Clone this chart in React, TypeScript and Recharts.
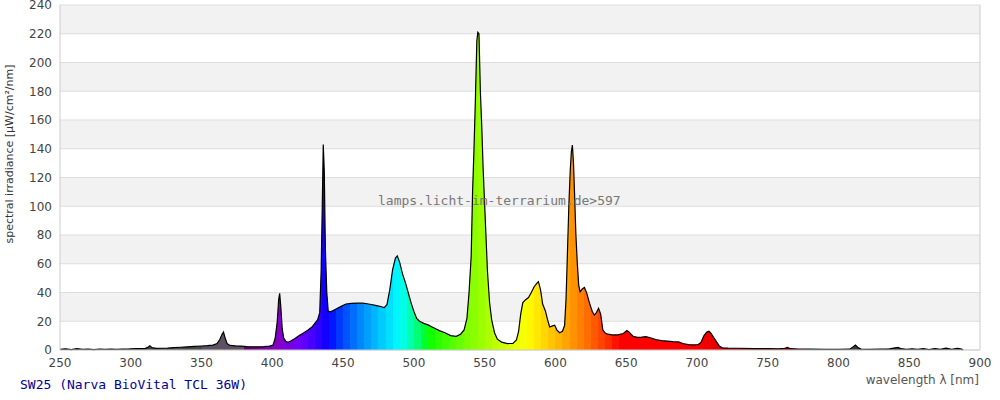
import { Area, CartesianGrid, ComposedChart, ReferenceLine, XAxis, YAxis } from 'recharts';

// [wavelength nm, spectral irradiance µW/cm²/nm]
const spectrumPoints: Array<[number, number]> = [
  [250, 0.5], [254, 0.8], [258, 0.3], [262, 0.9], [266, 0.4], [270, 0.6], [274, 0.3], [278, 0.7],
  [282, 0.4], [286, 0.6], [290, 0.5], [294, 0.7], [298, 0.6], [300, 0.8], [305, 0.9], [310, 1.0],
  [312, 1.8], [313.5, 3.0], [315, 1.6], [318, 1.1], [322, 1.2], [326, 1.3], [330, 1.6], [335, 1.9],
  [340, 2.2], [345, 2.5], [350, 2.8], [354, 3.0], [358, 3.4], [361, 4.5], [363, 7.5], [364.5, 11],
  [365.5, 12.5], [366.5, 9], [368, 4.5], [370, 3.2], [374, 2.9], [378, 2.7], [382, 2.4], [386, 2.2],
  [390, 2.2], [394, 2.4], [398, 2.7], [400.5, 3.5], [402, 8], [403.5, 20], [404.5, 35], [405.2, 39.4],
  [406, 30], [407, 15], [408, 8.5], [409.5, 6], [411, 5.3], [413, 6.2], [416, 8], [419, 10],
  [422, 11.8], [425, 13.8], [428, 16], [430, 18.5], [432, 21], [433.5, 26], [434.5, 55], [435.3, 100],
  [436, 143], [436.7, 125], [437.5, 70], [438.5, 40], [439.5, 27], [441, 26.5], [443, 27.5], [446, 29],
  [449, 30.5], [452, 32], [456, 32.5], [460, 32.6], [464, 32.6], [468, 32], [472, 31.2], [476, 30.4],
  [479, 29.5], [481, 31.5], [483, 42], [485, 56], [487, 64], [488.3, 65.5], [490, 61], [492, 53],
  [494, 47], [496, 40], [498, 33], [500, 27], [502, 22], [504, 20], [507, 18.5], [510, 17.5],
  [514, 15.5], [518, 13.5], [522, 12], [526, 10], [530, 9.5], [533, 11], [535.5, 14], [537.5, 22],
  [539, 40], [540.5, 65], [541.5, 110], [542.5, 140], [543.5, 175], [544.5, 215], [545.2, 221], [546, 220],
  [547, 180], [548, 155], [549, 125], [550.5, 90], [552, 55], [553.5, 33], [555, 21], [557, 12],
  [559, 7.5], [562, 5.5], [566, 4.5], [570, 4.6], [572.5, 7], [574, 13], [575.5, 25], [577, 33],
  [579, 35], [581, 36.5], [583, 40], [585, 44], [587, 46.5], [588, 47.5], [589.5, 42], [591, 32],
  [593, 27], [594.5, 21], [596, 16], [598, 16.8], [599.5, 17.2], [601, 14], [603, 12], [605, 13],
  [606.5, 17], [607.5, 35], [608.5, 67], [609.5, 100], [610.5, 125], [611.3, 138], [612, 142.5], [612.8, 130],
  [613.5, 110], [614.5, 80], [615.5, 60], [616.5, 45], [617.5, 40.5], [619, 42.5], [620.5, 43.5], [622, 40],
  [624, 33], [626, 27], [627.5, 24.3], [629, 26], [630.5, 29], [632, 25], [633.5, 14], [635, 12],
  [637, 11], [640, 10.5], [644, 10.5], [648, 11.5], [650.5, 13.5], [652, 12.5], [655, 9.5], [658, 8.8],
  [661, 9], [664, 9.3], [667, 8.5], [671, 7.2], [675, 6.5], [679, 6.2], [683, 5.8], [687, 5.6],
  [690, 4.5], [694, 3.8], [698, 3.5], [701, 3.8], [703, 5.5], [705, 10], [707, 12.5], [708.5, 13],
  [710, 11.5], [712, 8.5], [714, 5.5], [716, 2.5], [718, 1.5], [722, 1.3], [730, 1.2], [740, 1.0],
  [750, 0.9], [758, 0.8], [762, 1.2], [764, 1.8], [766, 0.9], [772, 0.7], [780, 0.6], [790, 0.5],
  [800, 0.4], [808, 0.6], [810, 2.0], [812, 3.5], [814, 1.5], [816, 0.6], [822, 0.4], [830, 0.6],
  [836, 0.8], [840, 1.5], [842, 1.8], [844, 1.0], [848, 0.5], [852, 0.8], [856, 0.4], [860, 0.9],
  [864, 0.3], [868, 1.0], [872, 0.5], [876, 1.3], [880, 0.4], [884, 1.2], [887, 0.6], [888, 0],
];

const xTicks = [250, 300, 350, 400, 450, 500, 550, 600, 650, 700, 750, 800, 850, 900];
const yTicks = [0, 20, 40, 60, 80, 100, 120, 140, 160, 180, 200, 220, 240];

const chartTitle = 'SW25 (Narva BioVital TCL 36W)';
const watermark = 'lamps.licht-im-terrarium.de>597';
const xLabel = 'wavelength λ [nm]';
const yLabel = 'spectral irradiance [µW/cm²/nm]';

// rough visible-spectrum colour for a wavelength
function spectrumColor(nm: number): string {
  if (nm < 300) return '#2e2e2e';
  if (nm < 350) return '#474747';
  if (nm < 380) return '#5d5262';
  if (nm >= 780) return '#3a3a3a';
  let r = 0, g = 0, b = 0;
  if (nm < 440) { r = -(nm - 440) / 60; b = 1; }
  else if (nm < 490) { g = (nm - 440) / 50; b = 1; }
  else if (nm < 510) { g = 1; b = -(nm - 510) / 20; }
  else if (nm < 580) { r = (nm - 510) / 70; g = 1; }
  else if (nm < 645) { r = 1; g = -(nm - 645) / 65; }
  else { r = 1; }
  let f = 1;
  if (nm < 420) f = 0.3 + (0.7 * (nm - 380)) / 40;
  else if (nm > 700) f = 0.3 + (0.7 * (780 - nm)) / 80;
  const ch = (c: number) => (c <= 0 ? 0 : Math.round(255 * Math.pow(c * f, 0.8)));
  return `rgb(${ch(r)},${ch(g)},${ch(b)})`;
}

export default function App() {
  const data = spectrumPoints.map(([nm, value]) => ({ nm, value }));
  const nmMin = data[0].nm;
  const nmMax = data[data.length - 1].nm;
  const span = nmMax - nmMin;

  const stops = [];
  for (let band = 250; band < nmMax; band += 5) {
    const color = spectrumColor(band + 2.5);
    stops.push(<stop key={`${band}a`} offset={(band - nmMin) / span} stopColor={color} />);
    stops.push(<stop key={`${band}b`} offset={Math.min(1, (band + 5 - nmMin) / span)} stopColor={color} />);
  }

  return (
    <div style={{ position: 'relative', width: 1000, height: 400, background: '#fff', fontFamily: '"DejaVu Sans", sans-serif' }}>
      <style>{'body{margin:0}'}</style>
      <ComposedChart width={1000} height={400} data={data} margin={{ top: 5, right: 20, bottom: 20, left: 10 }}>
        <defs>
          <linearGradient id="spectrumFill" x1="0" y1="0" x2="1" y2="0">
            {stops}
          </linearGradient>
        </defs>
        <CartesianGrid vertical={false} stroke="#dddddd" horizontalFill={['#f2f2f2', '#ffffff']} fillOpacity={1} />
        <XAxis
          dataKey="nm"
          type="number"
          domain={[250, 900]}
          ticks={xTicks}
          interval={0}
          tickLine={false}
          axisLine={{ stroke: '#cccccc' }}
          tick={{ fontSize: 12, fill: '#444444' }}
          height={30}
        />
        <YAxis
          type="number"
          domain={[0, 240]}
          ticks={yTicks}
          interval={0}
          tickLine={false}
          axisLine={{ stroke: '#cccccc' }}
          tick={{ fontSize: 12, fill: '#444444' }}
          width={50}
        />
        <ReferenceLine x={900} stroke="#cccccc" />
        <Area
          type="linear"
          dataKey="value"
          stroke="#000000"
          strokeWidth={1.2}
          fill="url(#spectrumFill)"
          fillOpacity={1}
          dot={false}
          activeDot={false}
          isAnimationActive={false}
        />
      </ComposedChart>
      <div style={{ position: 'absolute', left: 378, top: 193, whiteSpace: 'nowrap', fontFamily: '"DejaVu Sans Mono", monospace', fontSize: 13, color: '#777777', pointerEvents: 'none' }}>
        {watermark}
      </div>
      <div style={{ position: 'absolute', left: 9, top: 154, transform: 'translate(-50%, -50%) rotate(-90deg)', whiteSpace: 'nowrap', fontSize: 11, color: '#333333' }}>
        {yLabel}
      </div>
      <div style={{ position: 'absolute', right: 21, top: 373, fontSize: 12, color: '#555555' }}>{xLabel}</div>
      <div style={{ position: 'absolute', left: 20, top: 377, fontFamily: '"DejaVu Sans Mono", monospace', fontSize: 13, color: '#000099' }}>
        {chartTitle}
      </div>
    </div>
  );
}
